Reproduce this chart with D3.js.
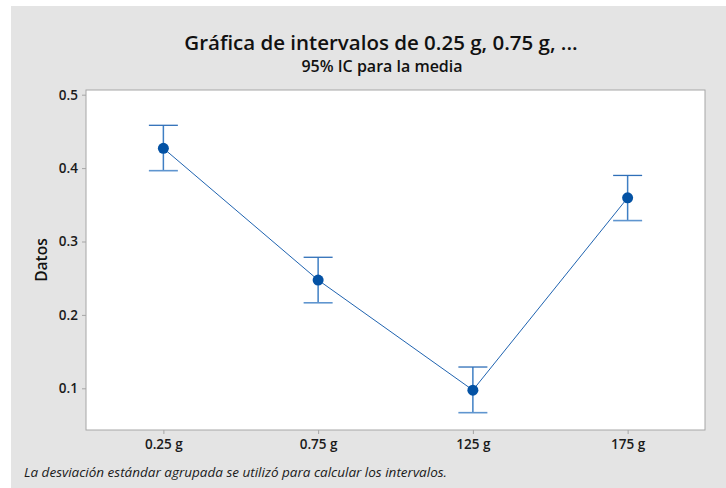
<!DOCTYPE html>
<html>
<head>
<meta charset="utf-8">
<script src="https://cdn.jsdelivr.net/npm/d3@7"></script>
<style>
  body { margin: 0; background: #fff; }
  svg { display: block; font-family: "Open Sans", "Noto Sans", sans-serif; }
</style>
</head>
<body>
<svg id="chart" width="726" height="488"></svg>
<script>
let groups = ["0.25 g", "0.75 g", "125 g", "175 g"];
let means = [0.427, 0.2475, 0.0975, 0.3595];
let lower = [0.3965, 0.2165, 0.0668, 0.3285];
let upper = [0.4583, 0.2785, 0.1290, 0.3900];
let yTicks = [0.1, 0.2, 0.3, 0.4, 0.5];

let svg = d3.select("#chart");
let width = 726, height = 488;
let margin = {left: 86, top: 90, right: 21, bottom: 58};

// gray panel
svg.append("rect").attr("x", 11).attr("y", 6).attr("width", width - 11).attr("height", height - 6)
  .attr("fill", "#e4e4e4");

svg.append("rect")
  .attr("x", margin.left).attr("y", margin.top)
  .attr("width", width - margin.left - margin.right)
  .attr("height", height - margin.top - margin.bottom)
  .attr("fill", "#fff").attr("stroke", "#a6a6a6").attr("stroke-width", 1);

let x = d3.scalePoint()
  .domain(groups)
  .range([margin.left, width - margin.right])
  .padding(0.5);

let y = d3.scaleLinear()
  .domain([0.0432, 0.5064])
  .range([height - margin.bottom, margin.top]);

let axisY = svg.append("g").attr("transform", `translate(${margin.left},0)`)
  .call(d3.axisLeft(y).tickValues(yTicks).tickFormat(d3.format(".1f")).tickSize(4).tickPadding(4));
axisY.select(".domain").remove();

let axisX = svg.append("g").attr("transform", `translate(0,${height - margin.bottom})`)
  .call(d3.axisBottom(x).tickSize(4).tickPadding(5));
axisX.select(".domain").remove();

svg.selectAll(".tick line").attr("stroke", "#a6a6a6");
svg.selectAll(".tick text").attr("fill", "#1a1a1a").style("font-size", "13.5px").style("font-weight", 600)
  .style("font-family", "\"Open Sans\", sans-serif");

let data = groups.map((g, i) => ({g: g, mean: means[i], lo: lower[i], hi: upper[i]}));
let mainG = svg.append("g");
let capW = 14.5;

mainG.selectAll("line.err").data(data).join("line").attr("class", "err")
  .attr("x1", d => x(d.g)).attr("x2", d => x(d.g))
  .attr("y1", d => y(d.lo)).attr("y2", d => y(d.hi))
  .attr("stroke", "#3f7fc4").attr("stroke-width", 1.5);

mainG.selectAll("line.capHi").data(data).join("line").attr("class", "capHi")
  .attr("x1", d => x(d.g) - capW).attr("x2", d => x(d.g) + capW)
  .attr("y1", d => y(d.hi)).attr("y2", d => y(d.hi))
  .attr("stroke", "#2f6fb8").attr("stroke-width", 1.3);

mainG.selectAll("line.capLo").data(data).join("line").attr("class", "capLo")
  .attr("x1", d => x(d.g) - capW).attr("x2", d => x(d.g) + capW)
  .attr("y1", d => y(d.lo)).attr("y2", d => y(d.lo))
  .attr("stroke", "#5f95cf").attr("stroke-width", 1.6);

mainG.append("path").datum(data)
  .attr("fill", "none").attr("stroke", "#1f63b0").attr("stroke-width", 1)
  .attr("d", d3.line().x(d => x(d.g)).y(d => y(d.mean)));

mainG.selectAll("circle").data(data).join("circle")
  .attr("cx", d => x(d.g)).attr("cy", d => y(d.mean)).attr("r", 5.5)
  .attr("fill", "#0452a4");

// titles
svg.append("text").attr("x", 381).attr("y", 50).attr("text-anchor", "middle")
  .style("font-size", "20.5px").style("font-weight", 600).attr("fill", "#111")
  .text("Gráfica de intervalos de 0.25 g, 0.75 g, ...");
svg.append("text").attr("x", 382).attr("y", 72).attr("text-anchor", "middle")
  .style("font-size", "16px").style("font-weight", 600).attr("fill", "#111")
  .text("95% IC para la media");

svg.append("text")
  .attr("transform", `translate(47,${(margin.top + height - margin.bottom) / 2}) rotate(-90)`)
  .attr("text-anchor", "middle")
  .style("font-size", "15.5px").style("font-weight", 600).attr("fill", "#111")
  .text("Datos");

svg.append("text").attr("x", 24).attr("y", 477)
  .style("font-size", "13.5px").style("font-style", "italic").attr("fill", "#1a1a1a")
  .text("La desviación estándar agrupada se utilizó para calcular los intervalos.");
</script>
</body>
</html>
